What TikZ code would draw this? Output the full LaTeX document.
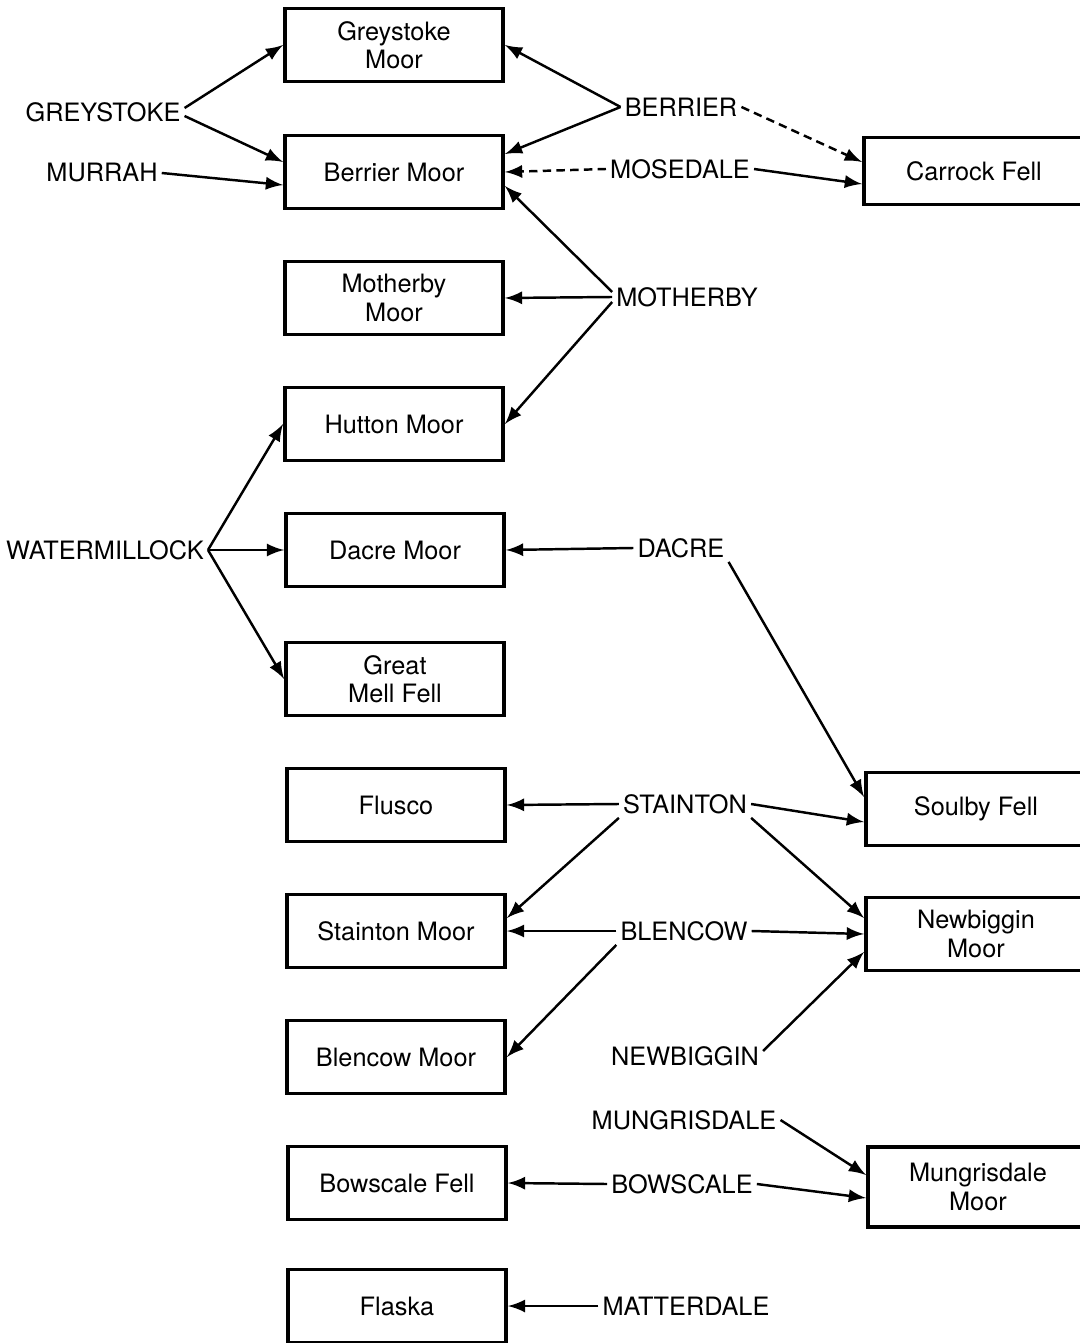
\documentclass[tikz,border=0pt]{standalone}
\usepackage{fontspec}
\setmainfont{TeX Gyre Heros}
\usetikzlibrary{arrows, positioning}

\begin{document}
\begin{tikzpicture}[
  moor/.style={draw, line width=1.1pt, minimum width=2.18cm, minimum height=0.73cm, align=center, inner sep=1pt, font=\fontsize{7.2}{8}\selectfont},
  farmoor/.style={moor, anchor=west, minimum width=2.2cm},
  vill/.style={inner sep=1pt, font=\fontsize{7.2}{8}\selectfont},
  link/.style={line width=0.7pt, -latex},
  rough/.style={dash pattern=on 2.4pt off 1.5pt}]
\useasboundingbox (0,0) rectangle (10.79,-13.43);
%commons, left column
\node[moor] (gmoor) at (3.94,-0.45) {Greystoke\\Moor};
\node[moor] (bmoor) at (3.94,-1.72) {Berrier Moor};
\node[moor] (mmoor) at (3.94,-2.98) {Motherby\\Moor};
\node[moor] (hmoor) at (3.94,-4.24) {Hutton Moor};
\node[moor] (dmoor) at (3.95,-5.50) {Dacre Moor};
\node[moor] (mell) at (3.95,-6.79) {Great\\Mell Fell};
\node[moor] (flusco) at (3.96,-8.05) {Flusco};
\node[moor] (smoor) at (3.96,-9.31) {Stainton Moor};
\node[moor] (blmoor) at (3.96,-10.57) {Blencow Moor};
\node[moor] (bfell) at (3.97,-11.83) {Bowscale Fell};
\node[moor] (flaska) at (3.97,-13.06) {Flaska};
%commons, right column
\node[farmoor, minimum height=0.67cm] (carrock) at (8.62,-1.71) {Carrock Fell};
\node[farmoor] (soulby) at (8.64,-8.09) {Soulby Fell};
\node[farmoor] (nmoor) at (8.64,-9.34) {Newbiggin\\Moor};
\node[farmoor, minimum height=0.8cm] (mumoor) at (8.66,-11.87) {Mungrisdale\\Moor};
%townships
\node[vill] (greystoke) at (1.03,-1.12) {GREYSTOKE};
\node[vill] (murrah) at (1.02,-1.73) {MURRAH};
\node[vill] (berrier) at (6.81,-1.07) {BERRIER};
\node[vill] (mosedale) at (6.80,-1.69) {MOSEDALE};
\node[vill] (motherby) at (6.87,-2.97) {MOTHERBY};
\node[vill] (watermillock) at (1.05,-5.50) {WATERMILLOCK};
\node[vill] (dacre) at (6.81,-5.48) {DACRE};
\node[vill] (stainton) at (6.85,-8.04) {STAINTON};
\node[vill] (blencow) at (6.84,-9.31) {BLENCOW};
\node[vill] (newbiggin) at (6.85,-10.56) {NEWBIGGIN};
\node[vill] (mungrisdale) at (6.84,-11.20) {MUNGRISDALE};
\node[vill] (bowscale) at (6.82,-11.84) {BOWSCALE};
\node[vill] (matterdale) at (6.86,-13.06) {MATTERDALE};
%top group
\draw[link] ([yshift=0.04cm]greystoke.east) -- (gmoor.west);
\draw[link] ([yshift=-0.04cm]greystoke.east) -- ([yshift=0.1cm]bmoor.west);
\draw[link] (murrah.east) -- ([yshift=-0.13cm]bmoor.west);
\draw[link] (berrier.west) -- (gmoor.east);
\draw[link] (berrier.west) -- ([yshift=0.18cm]bmoor.east);
\draw[link, rough] (berrier.east) -- ([yshift=0.09cm]carrock.west);
\draw[link, rough] (mosedale.west) -- (bmoor.east);
\draw[link] (mosedale.east) -- ([yshift=-0.13cm]carrock.west);
\draw[link] ([yshift=0.05cm]motherby.west) -- ([yshift=-0.14cm]bmoor.east);
\draw[link] (motherby.west) -- (mmoor.east);
\draw[link] ([yshift=-0.05cm]motherby.west) -- (hmoor.east);
%middle group
\draw[link] (watermillock.east) -- (hmoor.west);
\draw[link] (watermillock.east) -- (dmoor.west);
\draw[link] (watermillock.east) -- (mell.west);
\draw[link] (dacre.west) -- (dmoor.east);
\draw[link] (dacre.south east) -- ([yshift=0.12cm]soulby.west);
%lower group
\draw[link] (stainton.west) -- (flusco.east);
\draw[link] (stainton.south west) -- ([yshift=0.13cm]smoor.east);
\draw[link] (stainton.east) -- ([yshift=-0.13cm]soulby.west);
\draw[link] (stainton.south east) -- ([yshift=0.16cm]nmoor.west);
\draw[link] (blencow.west) -- (smoor.east);
\draw[link] (blencow.south west) -- (blmoor.east);
\draw[link] (blencow.east) -- (nmoor.west);
\draw[link] ([yshift=0.05cm]newbiggin.east) -- ([yshift=-0.18cm]nmoor.west);
%bottom group
\draw[link] (mungrisdale.east) -- ([yshift=0.12cm]mumoor.west);
\draw[link] (bowscale.west) -- (bfell.east);
\draw[link] (bowscale.east) -- ([yshift=-0.11cm]mumoor.west);
\draw[link] (matterdale.west) -- (flaska.east);
\end{tikzpicture}
\end{document}
